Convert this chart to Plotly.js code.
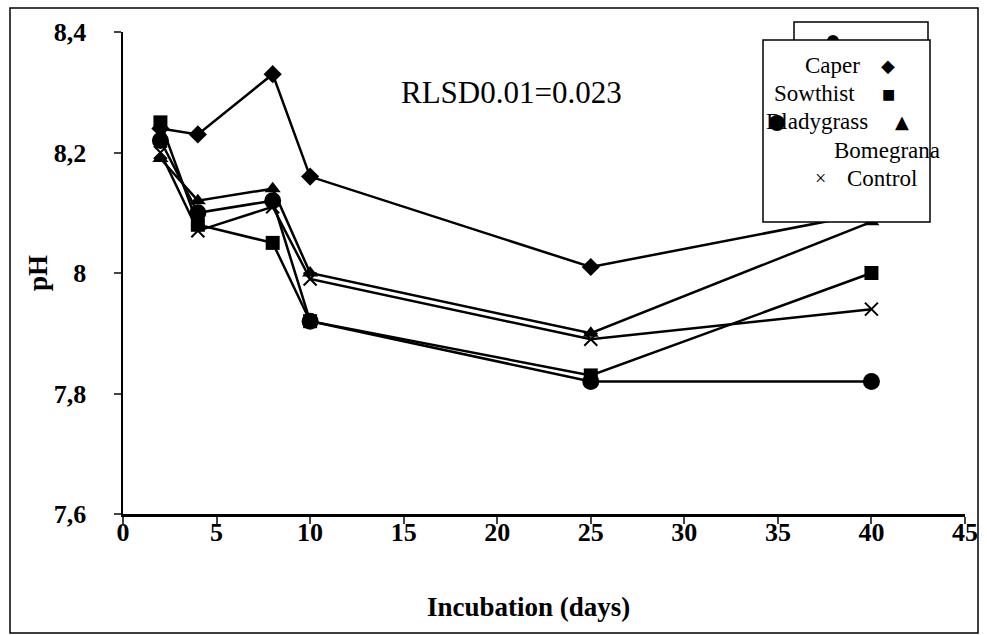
<!DOCTYPE html>
<html>
<head>
<meta charset="utf-8">
<script src="https://cdn.plot.ly/plotly-3.0.1.min.js"></script>
<style>html,body{margin:0;padding:0;background:#fff;}#chart{width:987px;height:635px;}</style>
</head>
<body>
<div id="chart"></div>
<script>
// ---- data ----
var days = [2, 4, 8, 10, 25, 40];
var caper = [8.24, 8.23, 8.33, 8.16, 8.01, 8.10];
var sowthist = [8.25, 8.08, 8.05, 7.92, 7.83, 8.00];
var bladygrass = [8.19, 8.12, 8.14, 8.00, 7.90, 8.085];
var bomegrana = [8.22, 8.10, 8.12, 7.92, 7.82, 7.82];
var control = [8.20, 8.07, 8.11, 7.99, 7.89, 7.94];
var seriesNames = ["Caper", "Sowthist", "Bladygrass", "Bomegrana", "Control"];
var xTicks = [0, 5, 10, 15, 20, 25, 30, 35, 40, 45];
var yTicks = [7.6, 7.8, 8.0, 8.2, 8.4];
var xTitle = "Incubation (days)";
var yTitle = "pH";
var note = "RLSD0.01=0.023";

// ---- layout helpers (pixel -> paper) ----
var L = 123, R = 965, T = 32, B = 514;
function px(x) { return (x - L) / (R - L); }
function py(y) { return (B - y) / (B - T); }

var serif = "Liberation Serif";
var lineStyle = {color: "#000", width: 2.5};

function tr(name, y, symbol, size, extra) {
  var m = {symbol: symbol, size: size, color: "#000", line: {color: "#000", width: 0}};
  if (extra) for (var k in extra) m[k] = extra[k];
  return {x: days, y: y, name: name, type: "scatter", mode: "lines+markers",
          line: lineStyle, marker: m, showlegend: false, cliponaxis: false};
}

var data = [
  tr(seriesNames[0], caper, "diamond", 14),
  tr(seriesNames[1], sowthist, "square", 14),
  tr(seriesNames[2], bladygrass, "triangle-up", 14),
  tr(seriesNames[3], bomegrana, "circle", 17),
  tr(seriesNames[4], control, "x-thin-open", 13, {line: {color: "#000", width: 2}})
];

var legFont = {family: serif, size: 23, color: "#000"};
var boldFont = {family: serif, size: 27, color: "#000", weight: "bold"};
function ann(x, y, text, font, anchor, angle) {
  return {xref: "paper", yref: "paper", x: px(x), y: py(y), text: text, showarrow: false,
          xanchor: anchor || "left", yanchor: "middle", font: font, textangle: angle || 0};
}

var layout = {
  width: 987, height: 635,
  margin: {l: L, r: 987 - R, t: T, b: 635 - B, pad: 0},
  paper_bgcolor: "#fff", plot_bgcolor: "#fff",
  separators: ",.",
  showlegend: false,
  xaxis: {
    range: [0, 45], tickvals: xTicks, ticks: "outside", ticklen: 7, tickwidth: 2,
    showline: true, linecolor: "#000", linewidth: 2.5, showgrid: false, zeroline: false,
    ticklabelstandoff: -14,
    tickfont: {family: serif, size: 26, color: "#000", weight: "bold"}
  },
  yaxis: {
    range: [7.6, 8.4], tickvals: yTicks, ticks: "outside", ticklen: 7, tickwidth: 2,
    showline: true, linecolor: "#000", linewidth: 2.5, showgrid: false, zeroline: false,
    ticklabelstandoff: 22,
    tickfont: {family: serif, size: 26, color: "#000", weight: "bold"}
  },
  shapes: [
    // outer frame
    {type: "rect", xref: "paper", yref: "paper", x0: px(10), x1: px(978), y0: py(633), y1: py(8),
     line: {color: "#000", width: 1.5}, fillcolor: "rgba(0,0,0,0)", layer: "below"},
    // back legend box
    {type: "rect", xref: "paper", yref: "paper", x0: px(794), x1: px(928), y0: py(60), y1: py(22),
     line: {color: "#000", width: 1.5}, fillcolor: "#fff", layer: "above"},
    {type: "circle", xref: "paper", yref: "paper", x0: px(827), x1: px(839), y0: py(47), y1: py(35),
     line: {color: "#000", width: 0}, fillcolor: "#000", layer: "above"},
    // main legend box
    {type: "rect", xref: "paper", yref: "paper", x0: px(763), x1: px(930), y0: py(222), y1: py(40),
     line: {color: "#000", width: 1.5}, fillcolor: "#fff", layer: "above"}
  ],
  annotations: [
    ann(528, 607, xTitle, boldFont, "center"),
    ann(38, 273, yTitle, boldFont, "center", -90),
    ann(399, 92, note, {family: serif, size: 31, color: "#000"}),
    ann(862, 65, seriesNames[0], legFont, "right"),
    ann(888, 65, "\u25C6", {family: "DejaVu Sans", size: 18, color: "#000"}, "center"),
    ann(857, 93, seriesNames[1], legFont, "right"),
    ann(888, 94, "\u25A0", {family: "DejaVu Sans", size: 14, color: "#000"}, "center"),
    ann(870, 121, seriesNames[2], legFont, "right"),
    ann(902, 121, "\u25B2", {family: "DejaVu Sans", size: 18, color: "#000"}, "center"),
    ann(832, 150, seriesNames[3], legFont, "left"),
    ann(820, 178, "\u00D7", {family: serif, size: 20, color: "#000"}, "center"),
    ann(845, 178, seriesNames[4], legFont, "left")
  ]
};
// overlapping circle over the "B" of Bladygrass (drawn as a shape)
layout.shapes.push({type: "circle", xref: "paper", yref: "paper", x0: px(769), x1: px(785), y0: py(131), y1: py(115),
  line: {color: "#000", width: 0}, fillcolor: "#000", layer: "above"});

Plotly.newPlot("chart", data, layout, {displayModeBar: false, staticPlot: true});
</script>
</body>
</html>
